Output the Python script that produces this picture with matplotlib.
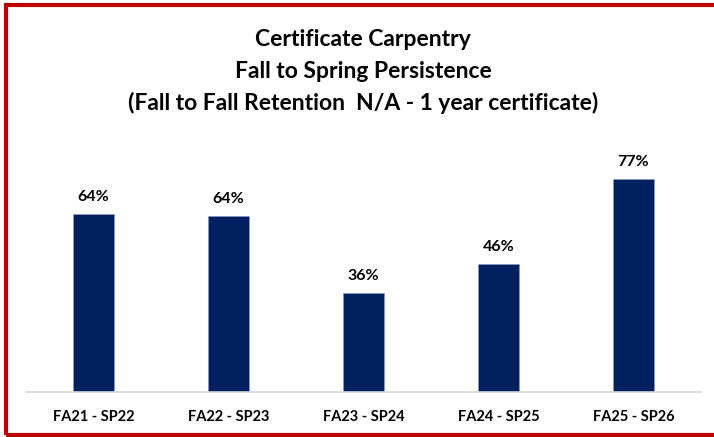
import matplotlib.pyplot as plt
from matplotlib.patches import Rectangle

terms = ["FA21 - SP22", "FA22 - SP23", "FA23 - SP24", "FA24 - SP25", "FA25 - SP26"]
persistence = [64.3, 63.6, 35.7, 46.2, 76.9]
labels = ["64%", "64%", "36%", "46%", "77%"]

plt.rcParams["font.family"] = ["Lato", "DejaVu Sans"]

fig = plt.figure(figsize=(7.14, 4.37), dpi=100)
ax = fig.add_axes([26 / 714, 45 / 437, 675 / 714, 272 / 437])

x = range(len(terms))
ax.bar(x, persistence, width=0.31, color="#002060", edgecolor="#8a9cc8", linewidth=0.4)
for xi, v, lab in zip(x, persistence, labels):
    ax.text(xi, v + 3.5, lab, ha="center", va="bottom", fontsize=11.5, fontweight="bold")

ax.set_xlim(-0.5, len(terms) - 0.5)
ax.set_ylim(0, 272 / 2.77)
ax.set_xticks(list(x))
ax.set_xticklabels(terms, fontsize=10.5, fontweight="bold")
ax.tick_params(axis="x", length=0, pad=13)
ax.set_yticks([])
for side in ["top", "right", "left"]:
    ax.spines[side].set_visible(False)
ax.spines["bottom"].set_color("#d9d9d9")
ax.spines["bottom"].set_linewidth(1.2)

title_kw = dict(ha="center", va="center", fontsize=16.5, fontweight="bold")
fig.text(363 / 714, 1 - 40 / 437, "Certificate Carpentry", **title_kw)
fig.text(363 / 714, 1 - 71 / 437, "Fall to Spring Persistence", **title_kw)
fig.text(363 / 714, 1 - 103 / 437, "(Fall to Fall Retention  N/A - 1 year certificate)", **title_kw)

fig.patches.append(Rectangle((6 / 714, 2 / 437), 720 / 714, 430 / 437, transform=fig.transFigure,
                             fill=False, edgecolor="#c00000", linewidth=3))

fig.savefig("out.png", dpi=100)
